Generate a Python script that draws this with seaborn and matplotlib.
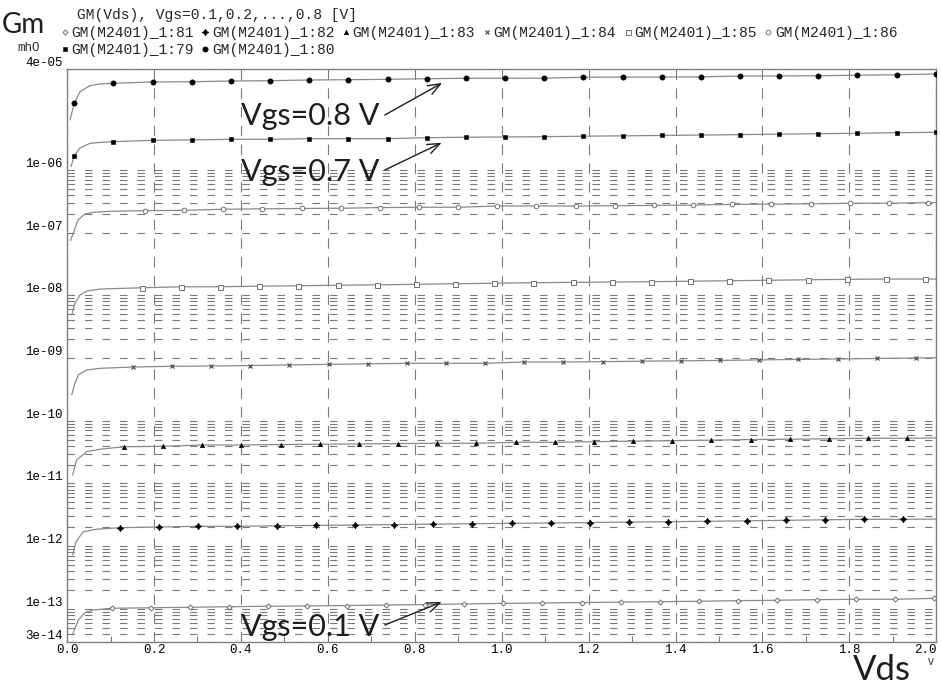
import numpy as np
import matplotlib
matplotlib.use('Agg')
import matplotlib.pyplot as plt
import seaborn as sns
from matplotlib.ticker import FixedLocator, NullFormatter

# ---- data (Gm in mhO vs Vds in V) ----
STEP = 0.0901  # spacing of the sample markers along Vds

# Vgs = 0.1 V  -> GM(M2401)_1:81
KNEE_X_81 = [0.012, 0.026, 0.041, 0.060]
KNEE_81 = [3.83e-14, 6.64e-14, 8.69e-14, 9.59e-14]
START_81 = 0.1026
MARK_81 = [1.02e-13, 1.04e-13, 1.06e-13, 1.08e-13, 1.10e-13, 1.11e-13, 1.13e-13, 1.15e-13,
           1.17e-13, 1.20e-13, 1.22e-13, 1.24e-13, 1.26e-13, 1.28e-13, 1.30e-13, 1.32e-13,
           1.35e-13, 1.37e-13, 1.40e-13, 1.42e-13, 1.42e-13, 1.47e-13]
END_81 = None

# Vgs = 0.2 V  -> GM(M2401)_1:82
KNEE_X_82 = [0.0129, 0.0205, 0.0373, 0.068]
KNEE_82 = [7.23e-13, 1.18e-12, 1.70e-12, 1.86e-12]
START_82 = 0.1217
MARK_82 = [1.97e-12, 2.02e-12, 2.07e-12, 2.07e-12, 2.11e-12, 2.14e-12, 2.17e-12, 2.21e-12,
           2.24e-12, 2.28e-12, 2.31e-12, 2.34e-12, 2.38e-12, 2.42e-12, 2.45e-12, 2.49e-12,
           2.53e-12, 2.58e-12, 2.63e-12, 2.68e-12, 2.68e-12]
END_82 = 2.70e-12

# Vgs = 0.3 V  -> GM(M2401)_1:83
KNEE_X_83 = [0.0129, 0.022, 0.045, 0.0757]
KNEE_83 = [1.36e-11, 2.37e-11, 3.21e-11, 3.51e-11]
START_83 = 0.131
MARK_83 = [3.85e-11, 3.91e-11, 4.10e-11, 4.10e-11, 4.17e-11, 4.22e-11, 4.27e-11, 4.32e-11,
           4.37e-11, 4.37e-11, 4.53e-11, 4.53e-11, 4.63e-11, 4.73e-11, 4.81e-11, 4.90e-11,
           5.01e-11, 5.07e-11, 5.15e-11, 5.25e-11, 5.25e-11]
END_83 = 5.31e-11

# Vgs = 0.4 V  -> GM(M2401)_1:84
KNEE_X_84 = [0.0106, 0.018, 0.0258, 0.045, 0.0757]
KNEE_84 = [2.58e-10, 3.95e-10, 5.37e-10, 6.44e-10, 6.85e-10]
START_84 = 0.151
MARK_84 = [7.19e-10, 7.38e-10, 7.46e-10, 7.59e-10, 7.76e-10, 7.94e-10, 8.09e-10, 8.24e-10,
           8.24e-10, 8.24e-10, 8.65e-10, 8.65e-10, 8.75e-10, 8.91e-10, 9.02e-10, 9.16e-10,
           9.33e-10, 9.51e-10, 9.66e-10, 9.84e-10, 1.00e-9]
END_84 = 1.01e-9

# Vgs = 0.5 V  -> GM(M2401)_1:85
KNEE_X_85 = [0.0106, 0.018, 0.0297, 0.045, 0.0757]
KNEE_85 = [4.86e-9, 7.46e-9, 1.01e-8, 1.17e-8, 1.26e-8]
START_85 = 0.172
MARK_85 = [1.32e-8, 1.37e-8, 1.37e-8, 1.40e-8, 1.42e-8, 1.45e-8, 1.47e-8, 1.50e-8,
           1.53e-8, 1.56e-8, 1.59e-8, 1.61e-8, 1.63e-8, 1.65e-8, 1.68e-8, 1.71e-8,
           1.74e-8, 1.77e-8, 1.80e-8, 1.82e-8, 1.82e-8]
END_85 = 1.82e-8

# Vgs = 0.6 V  -> GM(M2401)_1:86
KNEE_X_86 = [0.008, 0.025, 0.041, 0.060, 0.099]
KNEE_86 = [7.5e-8, 1.59e-7, 1.98e-7, 2.11e-7, 2.19e-7]
START_86 = 0.179
MARK_86 = [2.24e-7, 2.27e-7, 2.36e-7, 2.40e-7, 2.43e-7, 2.45e-7, 2.51e-7, 2.54e-7,
           2.54e-7, 2.66e-7, 2.66e-7, 2.66e-7, 2.69e-7, 2.72e-7, 2.75e-7, 2.82e-7,
           2.85e-7, 2.88e-7, 2.94e-7, 2.95e-7, 3.01e-7]
END_86 = 3.02e-7

# Vgs = 0.7 V  -> GM(M2401)_1:79
KNEE_X_79 = [0.0090, 0.0297, 0.0527, 0.0757]
KNEE_79 = [1.13e-6, 2.24e-6, 2.66e-6, 2.75e-6]
START_79 = 0.0166
MARK_79 = [1.67e-6, 2.82e-6, 2.97e-6, 3.01e-6, 3.08e-6, 3.08e-6, 3.15e-6, 3.15e-6,
           3.15e-6, 3.27e-6, 3.32e-6, 3.36e-6, 3.39e-6, 3.45e-6, 3.50e-6, 3.55e-6,
           3.60e-6, 3.66e-6, 3.72e-6, 3.78e-6, 3.84e-6, 3.93e-6, 3.98e-6]
END_79 = None

# Vgs = 0.8 V  -> GM(M2401)_1:80
KNEE_X_80 = [0.0067, 0.0297, 0.0527, 0.0757]
KNEE_80 = [6.27e-6, 1.77e-5, 2.21e-5, 2.35e-5]
START_80 = 0.0166
MARK_80 = [1.16e-5, 2.41e-5, 2.53e-5, 2.55e-5, 2.62e-5, 2.65e-5, 2.72e-5, 2.75e-5,
           2.79e-5, 2.85e-5, 2.90e-5, 2.90e-5, 2.91e-5, 3.01e-5, 3.03e-5, 3.03e-5,
           3.05e-5, 3.15e-5, 3.15e-5, 3.18e-5, 3.24e-5, 3.30e-5, 3.39e-5]
END_80 = None

YTICKS = [4e-5, 1e-6, 1e-7, 1e-8, 1e-9, 1e-10, 1e-11, 1e-12, 1e-13, 3e-14]
YTICK_LABELS = ['4e-05', '1e-06', '1e-07', '1e-08', '1e-09', '1e-10', '1e-11',
                '1e-12', '1e-13', '3e-14']
MINOR_DECADES = [-7, -9, -11, -12, -13, -14]
XTICKS = [0.0, 0.2, 0.4, 0.6, 0.8, 1.0, 1.2, 1.4, 1.6, 1.8, 2.0]

# (text, text pos, arrow tail, arrow tip) in data coords
NOTES = [
    ('Vgs=0.8 V', (0.40, 5.21e-6), (0.731, 7.52e-6), (0.863, 2.44e-5)),
    ('Vgs=0.7 V', (0.40, 6.67e-7), (0.731, 9.97e-7), (0.862, 2.72e-6)),
    ('Vgs=0.1 V', (0.40, 3.69e-14), (0.731, 5.52e-14), (0.862, 1.285e-13)),
]

sns.set_style('white')
plt.rcParams['font.family'] = ['Liberation Mono', 'DejaVu Sans Mono']
plt.rcParams['lines.scale_dashes'] = False

LINE_C = '#8a8a8a'
GRID_C = '#7a7a7a'
OPEN_C = '#707070'
TEXT_C = '#1e1e1e'
MONO = 'Liberation Mono'
SANS = 'Lato'

fig = plt.figure(figsize=(9.41, 6.86), dpi=100)
ax = fig.add_axes([0.0713, 0.0647, 0.9237, 0.834])

curves = [
    ('81', KNEE_X_81, KNEE_81, START_81, MARK_81, END_81,
     dict(marker='D', ms=2.6, mfc='white', mec=OPEN_C, mew=0.7)),
    ('82', KNEE_X_82, KNEE_82, START_82, MARK_82, END_82,
     dict(marker=(4, 1, 0), ms=4.6, mfc='black', mec='black', mew=0.6)),
    ('83', KNEE_X_83, KNEE_83, START_83, MARK_83, END_83,
     dict(marker='^', ms=3.2, mfc='black', mec='black', mew=0.4)),
    ('84', KNEE_X_84, KNEE_84, START_84, MARK_84, END_84,
     dict(marker='x', ms=3.2, mec='#505050', mew=0.9)),
    ('85', KNEE_X_85, KNEE_85, START_85, MARK_85, END_85,
     dict(marker='s', ms=3.6, mfc='white', mec=OPEN_C, mew=0.7)),
    ('86', KNEE_X_86, KNEE_86, START_86, MARK_86, END_86,
     dict(marker='o', ms=3.3, mfc='white', mec=OPEN_C, mew=0.7)),
    ('79', KNEE_X_79, KNEE_79, START_79, MARK_79, END_79,
     dict(marker='s', ms=3.5, mfc='black', mec='black', mew=0.4)),
    ('80', KNEE_X_80, KNEE_80, START_80, MARK_80, END_80,
     dict(marker='o', ms=3.8, mfc='black', mec='black', mew=0.4)),
]

handles = {}
for tag, kx, ky, x0, my, yend, style in curves:
    mx = x0 + STEP * np.arange(len(my))
    lx = list(kx) + list(mx)
    ly = list(ky) + list(my)
    if yend is not None:
        lx.append(2.0)
        ly.append(yend)
    sns.lineplot(x=lx, y=ly, ax=ax, color=LINE_C, lw=0.9, estimator=None,
                 legend=False, zorder=2)
    h, = ax.plot(mx, my, ls='none', zorder=3, label='GM(M2401)_1:' + tag, **style)
    handles[tag] = h

ax.set_yscale('log')
ax.set_xlim(0, 2.0)
ax.set_ylim(3e-14, 4e-5)

ax.set_yticks(YTICKS, labels=YTICK_LABELS)
minor_y = []
for d in MINOR_DECADES:
    for k in range(2, 10):
        v = k * 10.0 ** d
        if 3e-14 < v < 4e-5:
            minor_y.append(v)
ax.yaxis.set_minor_locator(FixedLocator(minor_y))
ax.yaxis.set_minor_formatter(NullFormatter())
ax.set_xticks(XTICKS, labels=['%.1f' % v for v in XTICKS])
ax.xaxis.set_minor_locator(FixedLocator([0.1, 0.3, 0.5, 0.7, 0.9, 1.1, 1.3, 1.5, 1.7, 1.9]))

ax.tick_params(axis='y', which='both', length=0, pad=3, labelsize=9, labelcolor='black')
ax.tick_params(axis='x', which='major', length=0, pad=2, labelsize=9, labelcolor='black')
ax.tick_params(axis='x', which='minor', direction='in', length=4, width=0.8, color=GRID_C,
               bottom=True, top=False)
plt.setp(ax.get_yticklabels(), va='bottom', family=MONO)
plt.setp(ax.get_xticklabels(), family=MONO)
ax.get_xticklabels()[-1].set_ha('right')

ax.grid(axis='y', which='both', color=GRID_C, ls=(0, (5.4, 7.2)), lw=0.8)
ax.grid(axis='x', which='major', color=GRID_C, ls=(0, (7.5, 6.0)), lw=0.8)
ax.set_axisbelow(True)
for s in ax.spines.values():
    s.set_color('#808080')
    s.set_linewidth(1.0)
ax.set_xlabel('')
ax.set_ylabel('')

for txt, tpos, tail, tip in NOTES:
    ax.text(tpos[0], tpos[1], txt, family=SANS, weight='normal', size=22, color=TEXT_C,
            ha='left', va='baseline', zorder=5)
    ax.annotate('', xy=tip, xytext=tail,
                arrowprops=dict(arrowstyle='->,head_length=0.9,head_width=0.35',
                                lw=1.0, color=TEXT_C, shrinkA=0, shrinkB=0), zorder=5)

# header texts
fig.text(0.002, 1 - 33 / 686, 'Gm', family=SANS, weight='normal', size=20,
         color=TEXT_C, va='baseline', ha='left')
fig.text(77 / 941, 1 - 15 / 686, 'GM(Vds), Vgs=0.1,0.2,...,0.8 [V]', family=MONO,
         size=10.5, va='center', ha='left')
fig.text(17 / 941, 1 - 48 / 686, 'mhO', family=MONO, size=9, va='center', ha='left')

row1 = [handles[t] for t in ['81', '82', '83', '84', '85', '86']]
row2 = [handles[t] for t in ['79', '80']]
for row, yy in [(row1, 33), (row2, 50)]:
    fig.legend(handles=row, labels=[h.get_label() for h in row], ncol=len(row),
               loc='center left', bbox_to_anchor=(61 / 941, 1 - yy / 686),
               frameon=False, handlelength=0.5, handletextpad=0.2, columnspacing=0.55,
               borderpad=0, borderaxespad=0, prop={'family': MONO, 'size': 10.5})

fig.text(853 / 941, 1 - 680 / 686, 'Vds', family=SANS, weight='normal', size=25,
         color=TEXT_C, va='baseline', ha='left')
fig.text(931 / 941, 1 - 662 / 686, 'V', family=MONO, size=7, va='center', ha='center')

fig.savefig('out.png', dpi=100)
